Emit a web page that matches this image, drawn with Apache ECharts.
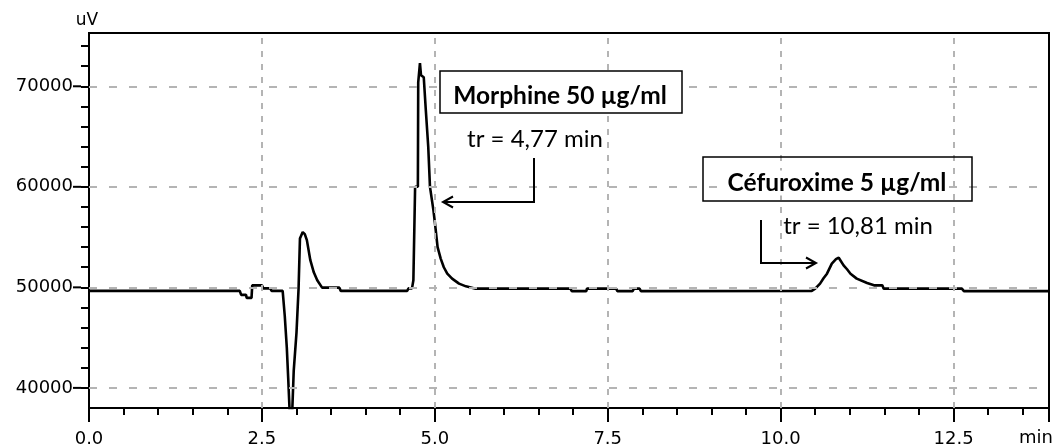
<!DOCTYPE html>
<html>
<head>
<meta charset="utf-8">
<script src="https://cdn.jsdelivr.net/npm/echarts@6/dist/echarts.min.js"></script>
<style>
html,body{margin:0;padding:0;background:#fff;}
#chart{width:1058px;height:448px;}
</style>
</head>
<body>
<div id="chart"></div>
<script>
// Chromatogram trace (retention time in min, signal in uV)
const times = [0.0, 2.18, 2.20, 2.27, 2.28, 2.35, 2.36, 2.50, 2.52, 2.62, 2.64, 2.80, 2.83, 2.86, 2.88, 2.905, 2.935, 2.96, 3.00, 3.03, 3.05, 3.09, 3.12, 3.15, 3.20, 3.25, 3.30, 3.37, 3.62, 3.64,
  4.60, 4.62, 4.67, 4.69, 4.71, 4.715, 4.755, 4.76, 4.78, 4.785, 4.80, 4.84, 4.87, 4.905, 4.93, 4.98, 5.00, 5.04, 5.085, 5.13, 5.18, 5.25, 5.35, 5.45, 5.59,
  6.96, 6.98, 7.19, 7.20, 7.62, 7.64, 7.86, 7.88, 7.96, 7.98,
  10.45, 10.50, 10.57, 10.62, 10.67, 10.74, 10.80, 10.84, 10.91, 10.96, 11.01, 11.10, 11.25, 11.35, 11.47, 11.49, 12.62, 12.65, 13.88];
const signal = [49650, 49650, 49250, 49250, 48950, 48950, 50200, 50200, 49900, 49900, 49650, 49650, 47200, 44000, 41000, 37000, 37000, 41700, 45500, 49870, 54850, 55500, 55300, 54700, 52700, 51500, 50700, 49970, 49970, 49650,
  49650, 49900, 49900, 50700, 50700, 60000, 60000, 70400, 70400, 72300, 71100, 70900, 67600, 63960, 60000, 57660, 56500, 54000, 52860, 52000, 51360, 50870, 50370, 50100, 49870,
  49870, 49630, 49630, 49870, 49870, 49630, 49630, 49870, 49870, 49630,
  49650, 49870, 50370, 50900, 51360, 52360, 52800, 52950, 52190, 51800, 51360, 50870, 50430, 50200, 50200, 49870, 49870, 49630, 49630];

const xMajorTicks = [0, 2.5, 5, 7.5, 10, 12.5];
const yMajorTicks = [40000, 50000, 60000, 70000];
const xGridLines = [2.5, 5, 7.5, 10, 12.5];
const yGridLines = [40000, 50000, 60000, 70000];

const labelMorphine = 'Morphine 50 µg/ml';
const trMorphine = 'tr = 4,77 min';
const labelCefuroxime = 'Céfuroxime 5 µg/ml';
const trCefuroxime = 'tr = 10,81 min';

const chart = echarts.init(document.getElementById('chart'), null, {renderer: 'canvas'});
const axisFont = 'DejaVu Sans';
const annFont = 'Lato';
const gridColor = '#b4b4b4';

const isMajorX = v => xMajorTicks.some(m => Math.abs(m - v) < 1e-6);

const option = {
  animation: false,
  backgroundColor: '#fff',
  grid: {left: 89, right: 9, top: 33, bottom: 40, show: true, borderColor: '#000', borderWidth: 2},
  xAxis: [{
    type: 'value', min: 0, max: 13.88, interval: 0.5,
    axisLine: {show: true, onZero: false, lineStyle: {color: '#000', width: 2}},
    axisTick: {show: true, length: 7, lineStyle: {color: '#000', width: 2}},
    axisLabel: {
      margin: 22, color: '#000', fontFamily: axisFont, fontSize: 18,
      showMaxLabel: false,
      formatter: v => isMajorX(v) ? v.toFixed(1) : ''
    },
    splitLine: {show: false}
  }, {
    type: 'value', min: 0, max: 13.88, interval: 2.5, position: 'bottom',
    axisLine: {show: false, onZero: false},
    axisTick: {show: true, length: 14, lineStyle: {color: '#000', width: 2}},
    axisLabel: {show: false},
    splitLine: {show: false}
  }],
  yAxis: {
    type: 'value', min: 38000, max: 75300, interval: 2000,
    name: 'uV', nameLocation: 'end', nameGap: 4,
    nameTextStyle: {color: '#000', fontFamily: axisFont, fontSize: 17, align: 'center', padding: [0, 4, 0, 0]},
    axisLine: {show: true, onZero: false, lineStyle: {color: '#000', width: 2}},
    axisTick: {show: true, length: 8, lineStyle: {color: '#000', width: 2}},
    axisLabel: {
      margin: 8, color: '#000', fontFamily: axisFont, fontSize: 18,
      showMaxLabel: false, showMinLabel: false,
      formatter: v => yMajorTicks.indexOf(v) >= 0 ? (v + '{t|}') : '',
      rich: {t: {width: 8, height: 2, backgroundColor: '#000'}}
    },
    splitLine: {show: false}
  },
  series: [{
    type: 'line', data: [], z: 1, silent: true,
    markLine: {
      silent: true, symbol: 'none', animation: false,
      label: {show: false},
      data: yGridLines.map(v => ({yAxis: v, lineStyle: {color: gridColor, width: 2, type: [8, 12]}}))
        .concat(xGridLines.map(v => ({xAxis: v, lineStyle: {color: gridColor, width: 2, type: [6, 7]}})))
    }
  }, {
    type: 'line', z: 3,
    data: times.map((t, i) => [t, signal[i]]),
    showSymbol: false, clip: true,
    lineStyle: {color: '#000', width: 2.6},
    silent: true
  }],
  graphic: [
    // Morphine annotation
    {type: 'rect', z: 10, shape: {x: 440, y: 71, width: 242, height: 42},
      style: {fill: '#fff', stroke: '#000', lineWidth: 1.5}},
    {type: 'text', z: 11, x: 560, y: 96,
      style: {text: labelMorphine, font: 'bold 24.5px ' + annFont, fill: '#000', align: 'center', verticalAlign: 'middle'}},
    {type: 'text', z: 11, x: 535, y: 139,
      style: {text: trMorphine, font: '24px ' + annFont, fill: '#000', align: 'center', verticalAlign: 'middle'}},
    {type: 'polyline', z: 11, shape: {points: [[534, 158], [534, 202], [443, 202]]},
      style: {stroke: '#000', lineWidth: 2, fill: null}},
    {type: 'polyline', z: 11, shape: {points: [[453, 196.5], [443, 202], [453, 207.5]]},
      style: {stroke: '#000', lineWidth: 2, fill: null}},
    // Cefuroxime annotation
    {type: 'rect', z: 10, shape: {x: 703, y: 157, width: 269, height: 44},
      style: {fill: null, stroke: '#000', lineWidth: 1.5}},
    {type: 'text', z: 11, x: 837, y: 183,
      style: {text: labelCefuroxime, font: 'bold 24.5px ' + annFont, fill: '#000', align: 'center', verticalAlign: 'middle', backgroundColor: '#fff', padding: [0, 2]}},
    {type: 'text', z: 11, x: 858, y: 226,
      style: {text: trCefuroxime, font: '24px ' + annFont, fill: '#000', align: 'center', verticalAlign: 'middle'}},
    {type: 'polyline', z: 11, shape: {points: [[761, 220], [761, 263], [816, 263]]},
      style: {stroke: '#000', lineWidth: 2, fill: null}},
    {type: 'polyline', z: 11, shape: {points: [[806, 257.5], [816, 263], [806, 268.5]]},
      style: {stroke: '#000', lineWidth: 2, fill: null}},
    // x-axis unit
    {type: 'text', z: 11, x: 1036, y: 438,
      style: {text: 'min', font: '18px ' + axisFont, fill: '#000', align: 'center', verticalAlign: 'middle'}}
  ]
};
chart.setOption(option);
</script>
</body>
</html>
